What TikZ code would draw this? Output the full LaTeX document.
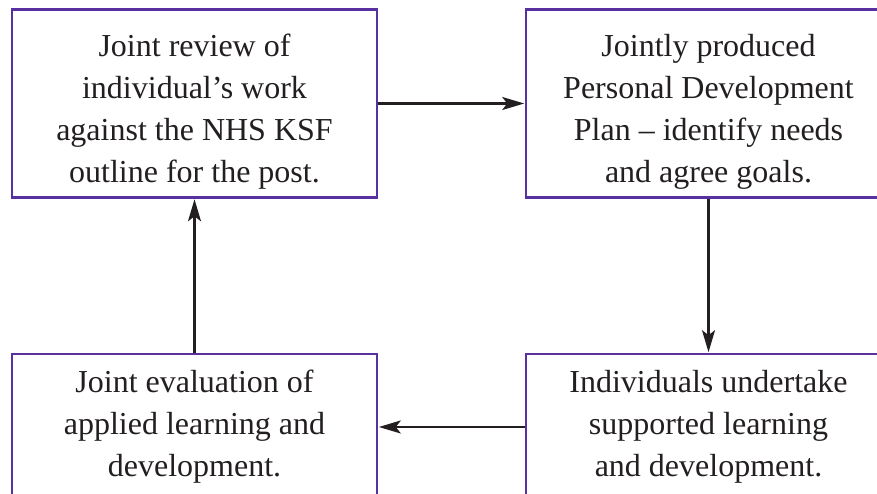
\documentclass[tikz,border=0pt]{standalone}
\usepackage{fontspec}
\setmainfont{Liberation Serif}
\usetikzlibrary{arrows.meta}
\definecolor{boxline}{RGB}{88,48,160}
\definecolor{ink}{RGB}{35,31,32}
% extra height on the first line pushes the upper texts a little lower
\newcommand{\firstgap}{\rule{0pt}{38pt}}
\begin{document}
\begin{tikzpicture}[x=1pt,y=1pt,
  stagebox/.style={draw=boxline, line width=2.6pt, fill=white, rectangle,
    minimum width=365pt, align=center, inner sep=0pt, text=ink,
    font=\fontsize{32}{42}\selectfont},
  flow/.style={draw=ink, line width=2.1pt, -{Stealth[length=22pt,width=13pt,inset=5pt]}, shorten >=0.5pt}]
\useasboundingbox (0,0) rectangle (877,494);
\clip (0,0) rectangle (877,494);

% the four stages of the review cycle
\node[stagebox, minimum height=188pt] (review) at (194.5,390.5)
  {\firstgap Joint review of\\ individual’s work\\ against the NHS KSF\\ outline for the post.};
\node[stagebox, minimum height=188pt] (plan) at (708.5,390.5)
  {\firstgap Jointly produced\\ Personal Development\\ Plan – identify needs\\ and agree goals.};
\node[stagebox, minimum height=146pt] (undertake) at (708.5,67)
  {Individuals undertake\\ supported learning\\ and development.};
\node[stagebox, minimum height=146pt] (evaluation) at (194.5,67)
  {Joint evaluation of\\ applied learning and\\ development.};

% connectors round the cycle
\draw[flow] (review.east) -- (plan.west);
\draw[flow] (plan.south) -- (undertake.north);
\draw[flow] (undertake.west) -- (evaluation.east);
\draw[flow] (evaluation.north) -- (review.south);
\end{tikzpicture}
\end{document}
